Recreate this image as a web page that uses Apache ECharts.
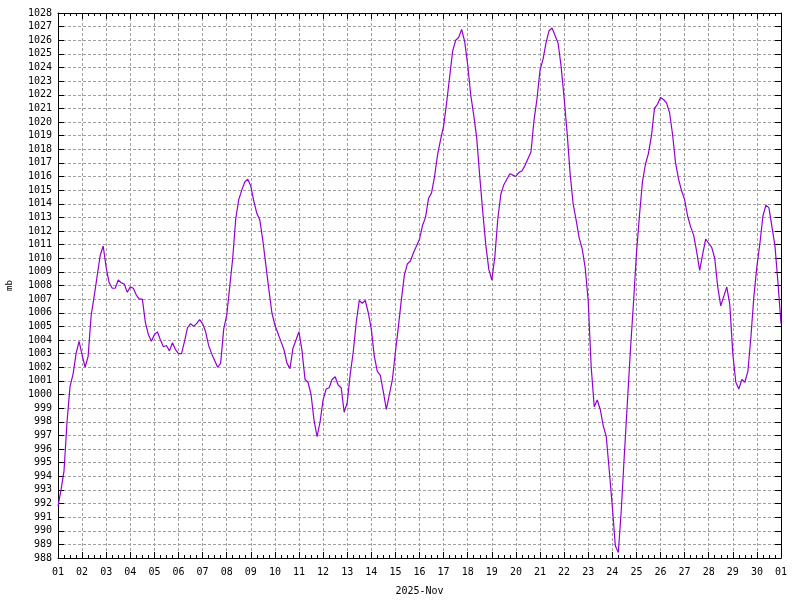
<!DOCTYPE html>
<html><head><meta charset="utf-8">
<script src="https://cdn.jsdelivr.net/npm/echarts@6/dist/echarts.min.js"></script>
<style>html,body{margin:0;padding:0;background:#fff}#c{width:800px;height:600px}</style>
</head><body><div id="c"></div>
<script>
// Day-of-month tick labels (Nov 1 .. Dec 1)
const dayLabels = ['01','02','03','04','05','06','07','08','09','10','11','12','13','14','15','16','17','18','19','20','21','22','23','24','25','26','27','28','29','30','01'];
const axisTitleX = '2025-Nov';
const axisTitleY = 'mb';
// Pressure readings (mb), one every 3 hours starting 2025-11-01 00:00
const stepHours = 3;
const pressure = [
  991.8, 993.0, 994.4, 998.0, 1000.6, 1001.5, 1003.0, 1003.9,
  1002.9, 1002.0, 1002.8, 1005.8, 1007.2, 1008.7, 1010.2, 1010.9,
  1009.3, 1008.2, 1007.8, 1007.8, 1008.4, 1008.2, 1008.1, 1007.5,
  1007.9, 1007.8, 1007.3, 1007.0, 1007.0, 1005.3, 1004.4, 1003.9,
  1004.4, 1004.6, 1004.0, 1003.5, 1003.6, 1003.2, 1003.8, 1003.3,
  1003.0, 1003.0, 1003.9, 1004.9, 1005.2, 1005.0, 1005.2, 1005.5,
  1005.2, 1004.6, 1003.6, 1003.0, 1002.5, 1002.0, 1002.3, 1004.8,
  1005.8, 1007.9, 1010.0, 1012.9, 1014.3, 1015.0, 1015.6, 1015.8,
  1015.3, 1014.2, 1013.3, 1012.8, 1011.3, 1009.5, 1007.7, 1006.0,
  1005.1, 1004.5, 1003.9, 1003.3, 1002.3, 1001.9, 1003.4, 1004.0,
  1004.6, 1003.2, 1001.1, 1000.9, 1000.0, 998.1, 996.9, 998.0,
  999.6, 1000.4, 1000.5, 1001.1, 1001.3, 1000.7, 1000.5, 998.7,
  999.4, 1001.5, 1003.1, 1005.3, 1006.9, 1006.7, 1006.9, 1006.0,
  1004.8, 1002.8, 1001.7, 1001.4, 1000.2, 998.9, 1000.0, 1001.1,
  1003.1, 1005.0, 1007.0, 1008.8, 1009.6, 1009.8, 1010.4, 1010.9,
  1011.4, 1012.4, 1013.0, 1014.4, 1014.8, 1016.0, 1017.6, 1018.7,
  1019.7, 1021.4, 1023.3, 1025.2, 1026.0, 1026.2, 1026.8, 1025.9,
  1024.2, 1022.0, 1020.5, 1018.8, 1016.0, 1013.4, 1011.0, 1009.2,
  1008.4, 1010.1, 1012.9, 1014.7, 1015.4, 1015.8, 1016.2, 1016.1,
  1016.0, 1016.3, 1016.4, 1016.8, 1017.3, 1017.8, 1020.1, 1021.7,
  1023.8, 1024.6, 1025.8, 1026.7, 1026.9, 1026.35, 1025.8, 1024.1,
  1021.8, 1019.2, 1016.2, 1014.0, 1012.8, 1011.5, 1010.7, 1009.3,
  1006.9, 1002.0, 999.1, 999.6, 998.9, 997.7, 996.9, 994.4,
  991.8, 988.9, 988.4, 991.6, 995.6, 999.4, 1003.2, 1006.6,
  1010.3, 1013.1, 1015.6, 1016.9, 1017.7, 1019.0, 1021.0, 1021.3,
  1021.8, 1021.65, 1021.4, 1020.7, 1019.1, 1017.0, 1015.8, 1014.95,
  1014.3, 1013.1, 1012.3, 1011.7, 1010.5, 1009.1, 1010.3, 1011.4,
  1011.1, 1010.8, 1010.0, 1007.9, 1006.5, 1007.2, 1007.9, 1006.6,
  1003.0, 1000.9, 1000.4, 1001.1, 1000.9, 1001.7, 1004.2, 1007.2,
  1009.4, 1011.1, 1013.1, 1013.9, 1013.7, 1012.3, 1010.9, 1008.2,
  1005.2
];
const yMin = 988, yMax = 1028;

const seriesData = pressure.map((v, i) => [i * stepHours, v]);
const xMax = (dayLabels.length - 1) * 24;
const font = '"DejaVu Sans Mono", monospace';
const gridLine = { show: true, lineStyle: { color: '#a0a0a0', type: [3, 2], width: 1 } };
const blackLine = { show: true, onZero: false, lineStyle: { color: '#000', width: 1 } };

const chart = echarts.init(document.getElementById('c'), null, { renderer: 'canvas' });
chart.setOption({
  animation: false,
  backgroundColor: '#fff',
  grid: { left: 58, top: 13, right: 19, bottom: 42, containLabel: false, outerBoundsMode: 'none' },
  xAxis: [
    {
      type: 'value', min: 0, max: xMax, interval: 24, position: 'bottom',
      name: axisTitleX, nameLocation: 'middle', nameGap: 28,
      nameTextStyle: { fontFamily: font, fontSize: 10, color: '#000' },
      axisLine: blackLine,
      axisTick: { show: true, inside: true, length: 6, lineStyle: { color: '#000' } },
      minorTick: { show: true, splitNumber: 4, length: 3, lineStyle: { color: '#000' } },
      axisLabel: { show: true, margin: 9, fontFamily: font, fontSize: 10, color: '#000',
        formatter: v => dayLabels[Math.round(v / 24)] },
      splitLine: gridLine
    },
    {
      type: 'value', min: 0, max: xMax, interval: 24, position: 'top',
      axisLine: blackLine,
      axisTick: { show: true, inside: true, length: 6, lineStyle: { color: '#000' } },
      minorTick: { show: true, splitNumber: 4, length: 3, lineStyle: { color: '#000' } },
      axisLabel: { show: false },
      splitLine: { show: false }
    }
  ],
  yAxis: [
    {
      type: 'value', min: yMin, max: yMax, interval: 1, position: 'left',
      name: axisTitleY, nameLocation: 'middle', nameGap: 44, nameRotate: 90,
      nameTextStyle: { fontFamily: font, fontSize: 9, color: '#000' },
      axisLine: blackLine,
      axisTick: { show: true, inside: true, length: 6, lineStyle: { color: '#000' } },
      axisLabel: { show: true, margin: 6, fontFamily: font, fontSize: 10, color: '#000',
        formatter: v => String(Math.round(v)) },
      splitLine: gridLine
    },
    {
      type: 'value', min: yMin, max: yMax, interval: 1, position: 'right',
      axisLine: blackLine,
      axisTick: { show: true, inside: true, length: 6, lineStyle: { color: '#000' } },
      axisLabel: { show: false },
      splitLine: { show: false }
    }
  ],
  series: [{
    type: 'line', xAxisIndex: 0, yAxisIndex: 0, data: seriesData,
    showSymbol: false,
    lineStyle: { color: '#9400d3', width: 1.2 },
    itemStyle: { color: '#9400d3' }
  }]
});
</script>
</body></html>
